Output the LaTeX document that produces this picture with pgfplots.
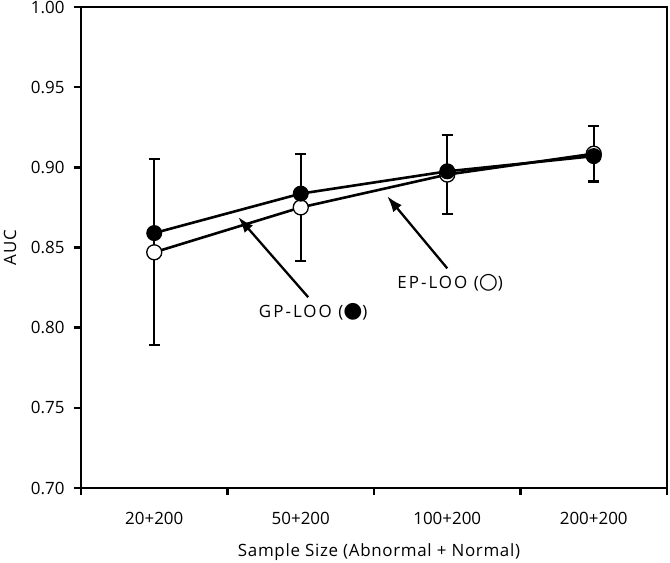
\documentclass[border=0pt]{standalone}
\usepackage{fontspec}
\setmainfont{Open Sans}
\newfontfamily\spaced[LetterSpace=12]{Open Sans}
\newfontfamily\lspaced[LetterSpace=4]{Open Sans}
\newfontfamily\sym{DejaVu Sans}
\usepackage{pgfplots}
\pgfplotsset{compat=1.18}
\usetikzlibrary{arrows.meta}

\begin{document}
\begin{tikzpicture}
\begin{axis}[
  at={(0,0)}, anchor=south west,
  scale only axis, width=586bp, height=481bp,
  xmin=-0.5, xmax=3.5, ymin=0.7, ymax=1.0,
  axis line style={line width=2.7bp},
  every tick/.style={black, line width=2.4bp},
  tick align=outside, major tick length=7bp,
  tick pos=left,
  xtick={-0.5,0.5,1.5,2.5,3.5}, xticklabels={},
  extra x ticks={0,1,2,3},
  extra x tick labels={20+200,50+200,100+200,200+200},
  extra x tick style={major tick length=0pt, xticklabel style={anchor=center, yshift=-30bp}},
  ytick={0.70,0.75,0.80,0.85,0.90,0.95,1.00},
  /pgf/number format/fixed,
  /pgf/number format/fixed zerofill,
  /pgf/number format/precision=2,
  /pgf/number format/assume math mode=true,
  yticklabel style={xshift=-6bp},
  tick label style={font=\fontsize{17}{20}\selectfont},
  label style={font=\fontsize{17}{20}\selectfont\lspaced},
  xlabel={Sample Size (Abnormal + Normal)},
  ylabel={AUC},
  xlabel style={at={(axis description cs:0.5,0)}, anchor=center, yshift=-64bp, xshift=5bp},
  ylabel style={at={(axis description cs:0,0.5)}, anchor=center, yshift=71bp},
  clip=false,
]
% EP-LOO (open) with error bars
\addplot[black, line width=2.6bp, mark=*, mark size=7.5bp,
  mark options={fill=white, draw=black, line width=1.3bp},
  error bars/.cd, y dir=both, y explicit,
  error bar style={line width=2.3bp, black},
  error mark options={rotate=90, mark size=5.5bp, line width=2.3bp, black}]
  coordinates {
  (0,0.847) +- (0,0.058)
  (1,0.875) +- (0,0.0335)
  (2,0.8955) +- (0,0.0245)
  (3,0.9085) +- (0,0.0173)
  };
% GP-LOO (filled)
\addplot[black, line width=2.6bp, mark=*, mark size=7.5bp,
  mark options={fill=black, draw=black, line width=1pt}]
  coordinates {
  (0,0.859)
  (1,0.8836)
  (2,0.8975)
  (3,0.907)
  };
\draw[line width=2.3bp, -{Latex[length=16bp,width=11bp]}] (axis cs:1.051,0.819) -- (axis cs:0.573,0.869);
\draw[line width=2.3bp, -{Latex[length=16bp,width=11bp]}] (axis cs:2.0,0.837) -- (axis cs:1.59,0.882);
\node[font=\fontsize{17}{20}\selectfont\spaced] at (axis cs:1.085,0.810) {GP-LOO ({\fontsize{22}{20}\selectfont\sym ●})};
\node[font=\fontsize{17}{20}\selectfont\spaced] at (axis cs:2.02,0.828) {EP-LOO ({\fontsize{22}{20}\selectfont\sym ○})};
\end{axis}
\pgfresetboundingbox
\path (-81bp,-75bp) rectangle (589bp,488bp);
\end{tikzpicture}
\end{document}
